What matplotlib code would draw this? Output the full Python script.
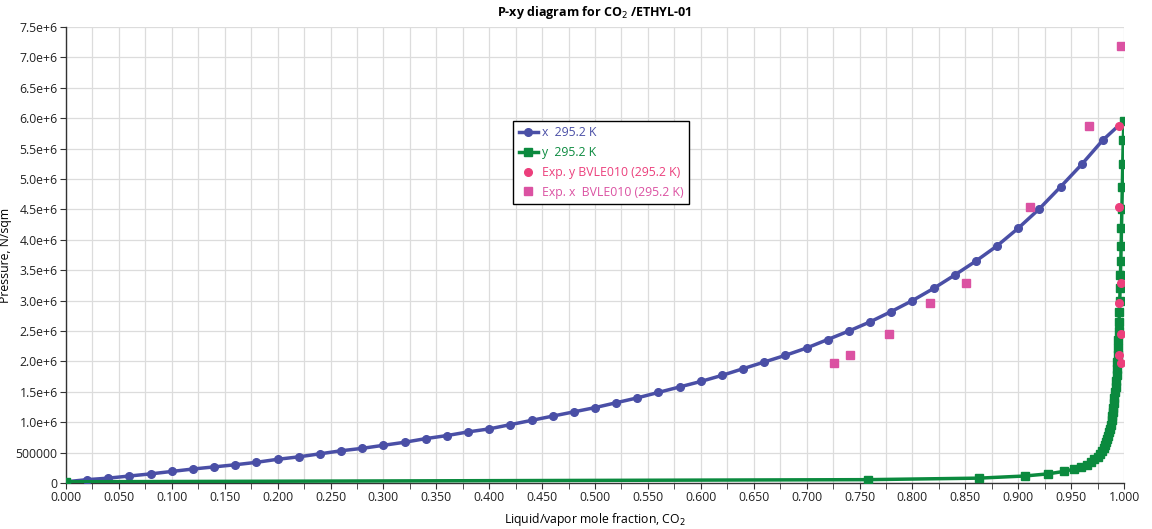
import numpy as np
import matplotlib.pyplot as plt
from matplotlib.ticker import MultipleLocator, FuncFormatter

plt.rcParams['font.family'] = ['Open Sans', 'DejaVu Sans']

# liquid composition (x) and pressure at the bubble point, 295.2 K
x_liq = [0.00, 0.02, 0.04, 0.06, 0.08, 0.10, 0.12, 0.14, 0.16, 0.18,
         0.20, 0.22, 0.24, 0.26, 0.28, 0.30, 0.32, 0.34, 0.36, 0.38,
         0.40, 0.42, 0.44, 0.46, 0.48, 0.50, 0.52, 0.54, 0.56, 0.58,
         0.60, 0.62, 0.64, 0.66, 0.68, 0.70, 0.72, 0.74, 0.76, 0.78,
         0.80, 0.82, 0.84, 0.86, 0.88, 0.90, 0.92, 0.94, 0.96, 0.98, 1.00]
pressure = [2.0e4, 5.5e4, 8.0e4, 1.15e5, 1.5e5, 1.9e5, 2.3e5, 2.65e5, 3.0e5, 3.4e5,
            3.9e5, 4.3e5, 4.8e5, 5.3e5, 5.7e5, 6.2e5, 6.7e5, 7.3e5, 7.8e5, 8.4e5,
            8.9e5, 9.6e5, 1.03e6, 1.10e6, 1.17e6, 1.24e6, 1.32e6, 1.40e6, 1.49e6, 1.58e6,
            1.67e6, 1.77e6, 1.88e6, 1.99e6, 2.10e6, 2.22e6, 2.36e6, 2.50e6, 2.65e6, 2.82e6,
            3.00e6, 3.20e6, 3.42e6, 3.65e6, 3.90e6, 4.19e6, 4.51e6, 4.87e6, 5.24e6, 5.64e6, 5.96e6]
# vapor composition (y) at the same pressures
y_vap = [0.000, 0.758, 0.863, 0.906, 0.928, 0.943, 0.953, 0.959, 0.965, 0.969,
         0.972, 0.975, 0.977, 0.979, 0.981, 0.982, 0.983, 0.984, 0.985, 0.986,
         0.987, 0.988, 0.9885, 0.989, 0.9895, 0.990, 0.9905, 0.991, 0.9915, 0.992,
         0.9925, 0.993, 0.9933, 0.9936, 0.994, 0.9943, 0.9946, 0.995, 0.9953, 0.9956,
         0.996, 0.9963, 0.9966, 0.997, 0.9973, 0.9976, 0.998, 0.9984, 0.9988, 0.9993, 1.000]

# experimental data BVLE010
exp_p = [1.97e6, 2.10e6, 2.45e6, 2.96e6, 3.29e6, 4.54e6, 5.87e6, 7.19e6]
exp_x = [0.726, 0.741, 0.778, 0.817, 0.851, 0.911, 0.967, 0.997]
exp_y_p = [1.97e6, 2.10e6, 2.45e6, 2.96e6, 3.29e6, 4.54e6, 5.87e6]
exp_y = [0.997, 0.995, 0.997, 0.995, 0.997, 0.995, 0.995]

c_x = '#4a4fa6'
c_y = '#0b8a3e'
c_ey = '#ec3f7c'
c_ex = '#db52a2'

fig = plt.figure(figsize=(11.52, 5.29), dpi=100)
ax = fig.add_axes([66 / 1152, 1 - 483 / 529, (1124 - 66) / 1152, (483 - 27) / 529])

ax.plot(x_liq, pressure, '-o', color=c_x, lw=2.5, ms=5.5, label='x  295.2 K', zorder=3)
ax.plot(y_vap, pressure, '-s', color=c_y, lw=2.5, ms=5.5, label='y  295.2 K', zorder=4)
ax.plot(exp_y, exp_y_p, 'o', color=c_ey, ms=5.5, label='Exp. y BVLE010 (295.2 K)', zorder=5)
ax.plot(exp_x, exp_p, 's', color=c_ex, ms=5.5, label='Exp. x  BVLE010 (295.2 K)', zorder=5)

ax.set_xlim(0, 1)
ax.set_ylim(0, 7.5e6)
ax.xaxis.set_major_locator(MultipleLocator(0.05))
ax.xaxis.set_minor_locator(MultipleLocator(0.025))
ax.yaxis.set_major_locator(MultipleLocator(5e5))
ax.xaxis.set_major_formatter(FuncFormatter(lambda v, p: f'{v:.3f}'))


def pfmt(v, pos):
    if v == 0:
        return '0'
    if v < 1e6:
        return f'{v:.0f}'
    return f'{v / 1e6:.1f}e+6'


ax.yaxis.set_major_formatter(FuncFormatter(pfmt))
ax.grid(True, which='both', color='#dcdcdc', lw=0.9)
ax.set_axisbelow(True)
for s in ['top', 'right']:
    ax.spines[s].set_visible(False)
for s in ['left', 'bottom']:
    ax.spines[s].set_color('#333333')
    ax.spines[s].set_linewidth(1.0)
ax.tick_params(which='both', length=4, color='#333333', labelsize=8.8, labelcolor='#222222', pad=2)

ax.set_title('P-xy diagram for CO$_2$ /ETHYL-01', fontsize=9, fontweight='bold', pad=8)
ax.set_xlabel('Liquid/vapor mole fraction, CO$_2$', fontsize=8.8, labelpad=5)
ax.set_ylabel('Pressure, N/sqm', fontsize=8.8)
ax.yaxis.set_label_coords(-0.051, 0.5)

leg = ax.legend(loc='upper left', bbox_to_anchor=(447 / 1058, 1 - 94 / 456), fontsize=8.8,
                frameon=True, fancybox=False, edgecolor='black', framealpha=1,
                handlelength=1.6, handletextpad=0.3, borderpad=0.45, labelspacing=0.55,
                borderaxespad=0)
leg.get_frame().set_linewidth(1.0)
for t, c in zip(leg.get_texts(), [c_x, c_y, c_ey, c_ex]):
    t.set_color(c)

fig.savefig('out.png', dpi=100)
